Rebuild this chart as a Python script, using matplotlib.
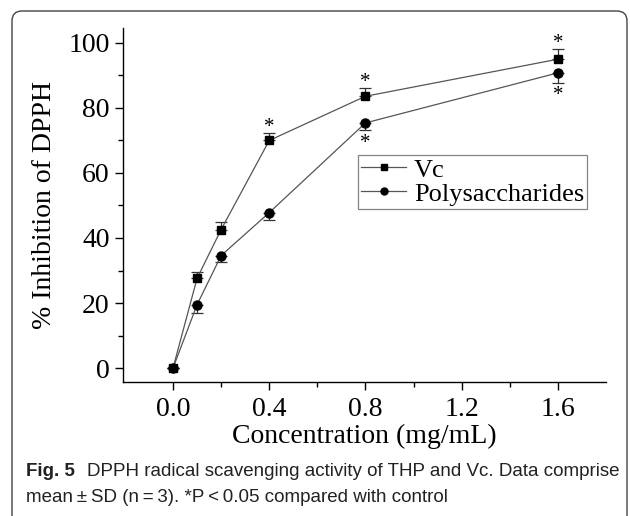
import matplotlib.pyplot as plt
from matplotlib.lines import Line2D
from matplotlib.patches import FancyBboxPatch

# data
conc = [0.0, 0.1, 0.2, 0.4, 0.8, 1.6]
vc = [0.0, 27.6, 42.6, 70.0, 83.6, 95.0]
vc_err = [0.0, 2.0, 2.2, 2.2, 2.5, 3.0]
poly = [0.0, 19.5, 34.6, 47.8, 75.4, 90.8]
poly_err = [0.0, 2.5, 2.0, 2.2, 2.2, 3.0]
vc_star = [0.4, 0.8, 1.6]
poly_star = [0.8, 1.6]

serif = 'Liberation Serif'

fig = plt.figure(figsize=(6.3, 5.16), dpi=100)
ax = fig.add_axes([123 / 630, 1 - 382 / 516, 483 / 630, 354 / 516])

line_col = '#555555'
ax.errorbar(conc, vc, yerr=[[0] * len(vc_err), vc_err], fmt='s-', color=line_col,
            mfc='black', mec='black', ms=5.5, lw=0.9, ecolor='#333333', elinewidth=0.9,
            capsize=4, capthick=0.9, zorder=3)
ax.errorbar(conc, poly, yerr=[poly_err, [0] * len(poly_err)], fmt='o-', color=line_col,
            mfc='black', mec='black', ms=6.5, lw=0.9, ecolor='#333333', elinewidth=0.9,
            capsize=4, capthick=0.9, zorder=3)

# significance marks
for x in vc_star:
    i = conc.index(x)
    ax.text(x, vc[i] + vc_err[i] - 1.2, '*', ha='center', va='bottom',
            fontsize=15, family=serif)
for x in poly_star:
    i = conc.index(x)
    ax.text(x, poly[i] - poly_err[i] - 7.0, '*', ha='center', va='bottom',
            fontsize=15, family=serif)

ax.set_xlim(-0.208, 1.8)
ax.set_ylim(-4.3, 104.6)
ax.set_xticks([0.0, 0.4, 0.8, 1.2, 1.6])
ax.set_xticks([0.2, 0.6, 1.0, 1.4], minor=True)
ax.set_yticks([0, 20, 40, 60, 80, 100])
ax.set_yticks([10, 30, 50, 70, 90], minor=True)
ax.set_xticklabels(['0.0', '0.4', '0.8', '1.2', '1.6'])
for s in ['top', 'right']:
    ax.spines[s].set_visible(False)
for s in ['left', 'bottom']:
    ax.spines[s].set_linewidth(1.0)
ax.tick_params(which='major', direction='out', length=6, width=1.0, labelsize=20)
ax.tick_params(axis='x', which='major', pad=5)
ax.tick_params(which='minor', direction='out', length=3.5, width=1.0)
for lab in ax.get_xticklabels() + ax.get_yticklabels():
    lab.set_family(serif)

ax.set_xlabel('Concentration (mg/mL)', fontsize=20, family=serif, labelpad=1)
ax.set_ylabel('% Inhibition of DPPH', fontsize=20, family=serif, labelpad=8)

handles = [Line2D([], [], color=line_col, lw=0.9, marker='s', ms=4.5, mfc='black', mec='black'),
           Line2D([], [], color=line_col, lw=0.9, marker='o', ms=5, mfc='black', mec='black')]
leg = ax.legend(handles, ['Vc', 'Polysaccharides'], loc='upper left', bbox_to_anchor=(0.4865, 0.641),
                prop={'family': serif, 'size': 19}, frameon=True, fancybox=False,
                edgecolor='#666666', handlelength=1.7, handletextpad=0.3, borderpad=0.12,
                labelspacing=0.02, borderaxespad=0)
leg.get_frame().set_linewidth(0.9)

# caption
cap = 'Liberation Sans'
fig.text(26 / 630, 1 - 472 / 516, 'Fig. 5', fontsize=13.5, weight='bold', family=cap,
         va='center', color='#222222')
fig.text(87 / 630, 1 - 472 / 516, 'DPPH radical scavenging activity of THP and Vc. Data comprise',
         fontsize=13.5, family=cap, va='center', color='#222222')
fig.text(26 / 630, 1 - 497 / 516, 'mean\u2009\u00b1\u2009SD (n\u2009=\u20093). *P\u2009<\u20090.05 compared with control',
         fontsize=13.5, family=cap, va='center', color='#222222')

# rounded frame around the figure (inches)
frame = FancyBboxPatch((0.12, -0.5), 6.15, 5.16 - 0.11 + 0.5,
                       boxstyle='round,pad=0,rounding_size=0.1', transform=fig.dpi_scale_trans,
                       fill=False, edgecolor='#444444', linewidth=1.0)
fig.patches.append(frame)

fig.savefig('out.png', dpi=100)
